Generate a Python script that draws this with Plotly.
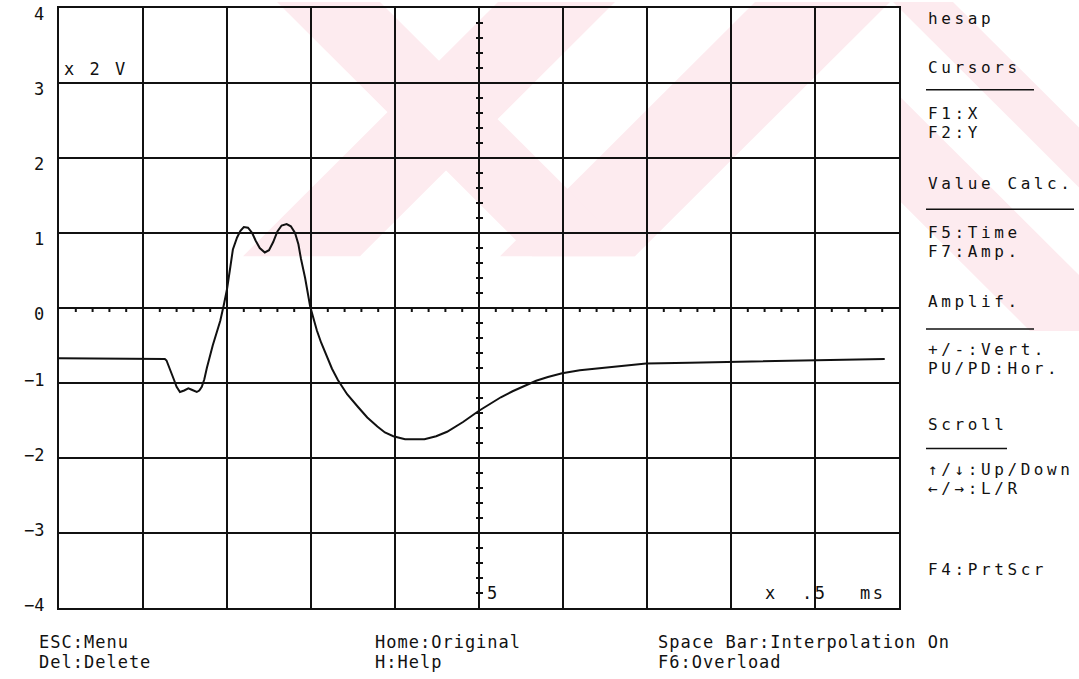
import numpy as np
import plotly.graph_objects as go

# Trace samples: time in screen divisions (x .5 ms), amplitude in divisions (x 2 V)
time_div = [0.0, 0.48, 0.96, 1.20, 1.26, 1.28, 1.31, 1.34, 1.37, 1.40, 1.44, 1.49,
            1.54, 1.58, 1.64, 1.67, 1.70, 1.73, 1.76, 1.83, 1.92, 1.96, 2.00,
            2.04, 2.07, 2.12, 2.16, 2.20, 2.25, 2.30, 2.34, 2.39, 2.45, 2.50,
            2.55, 2.60, 2.65, 2.71, 2.76, 2.81, 2.85, 2.88, 2.93, 2.99, 3.07,
            3.12, 3.19, 3.25, 3.32, 3.43, 3.56, 3.67, 3.79, 3.88, 3.98, 4.12,
            4.35, 4.49, 4.62, 4.81, 5.00, 5.13, 5.26, 5.40, 5.54, 5.68, 5.82,
            5.99, 6.20, 6.46, 6.74, 6.99, 7.51, 7.94, 8.35, 8.86, 9.36, 9.83]
amp_div = [-0.67, -0.67, -0.67, -0.67, -0.68, -0.70, -0.78, -0.87, -0.96, -1.05,
           -1.12, -1.10, -1.07, -1.09, -1.12, -1.10, -1.05, -0.95, -0.80, -0.50,
           -0.17, 0.03, 0.25, 0.55, 0.78, 0.94, 1.03, 1.08, 1.07, 1.00, 0.90,
           0.80, 0.74, 0.77, 0.88, 1.02, 1.10, 1.12, 1.09, 1.00, 0.85, 0.66,
           0.40, 0.02, -0.30, -0.46, -0.65, -0.81, -0.96, -1.15, -1.32, -1.46,
           -1.58, -1.66, -1.71, -1.75, -1.75, -1.71, -1.65, -1.52, -1.37, -1.28,
           -1.19, -1.11, -1.04, -0.97, -0.92, -0.87, -0.83, -0.80, -0.77, -0.74,
           -0.73, -0.72, -0.71, -0.70, -0.69, -0.68]

y_tick_values = [4, 3, 2, 1, 0, -1, -2, -3, -4]
y_tick_labels = ["4", "3", "2", "1", "0", "\u22121", "\u22122", "\u22123", "\u22124"]

menu_items = [("hesap", 17), ("Cursors", 66), ("F1:X", 112), ("F2:Y", 131),
              ("Value Calc.", 182), ("F5:Time", 231), ("F7:Amp.", 250),
              ("Amplif.", 300), ("+/-:Vert.", 349), ("PU/PD:Hor.", 368),
              ("Scroll", 424), ("\u2191/\u2193:Up/Down", 469),
              ("\u2190/\u2192:L/R", 488), ("F4:PrtScr", 569)]
menu_rules = [(88, 1034), (208, 1074), (328, 1034), (448, 1007)]
footer_items = [("ESC:Menu", 38, 642), ("Del:Delete", 38, 662),
                ("Home:Original", 374, 642), ("H:Help", 374, 662),
                ("Space Bar:Interpolation On", 657, 642), ("F6:Overload", 657, 662)]

W, H = 1079, 679
L, R, T, B = 59, 180, 6, 71
PW, PH = W - L - R, H - T - B
FONT = "DejaVu Sans Mono"
INK = "#111111"
WASH = "#fdebef"


def px_to_paper(xp, yp):
    return (xp - L) / PW, (H - B - yp) / PH


def spaced(txt, gap):
    return f'<span style="letter-spacing:{gap}px">{txt}</span>'


def clip(poly, xmin, xmax, ymin, ymax):
    """Sutherland-Hodgman clip of a polygon (pixel coords) to a box."""
    def cut(pts, inside, inter):
        out = []
        for i, cur in enumerate(pts):
            prev = pts[i - 1]
            if inside(cur):
                if not inside(prev):
                    out.append(inter(prev, cur))
                out.append(cur)
            elif inside(prev):
                out.append(inter(prev, cur))
        return out

    def ix(x0):
        return lambda a, b: (x0, a[1] + (b[1] - a[1]) * (x0 - a[0]) / (b[0] - a[0]))

    def iy(y0):
        return lambda a, b: (a[0] + (b[0] - a[0]) * (y0 - a[1]) / (b[1] - a[1]), y0)

    pts = poly
    pts = cut(pts, lambda p: p[0] >= xmin, ix(xmin))
    pts = cut(pts, lambda p: p[0] <= xmax, ix(xmax)) if pts else pts
    pts = cut(pts, lambda p: p[1] >= ymin, iy(ymin)) if pts else pts
    pts = cut(pts, lambda p: p[1] <= ymax, iy(ymax)) if pts else pts
    return pts


def poly_path(points):
    pts = [px_to_paper(x, y) for x, y in points]
    return "M " + " L ".join(f"{x:.5f},{y:.5f}" for x, y in pts) + " Z"


def slash_band(c1, c2, ybot):
    return [(c1, 0), (c2, 0), (c2 - ybot, ybot), (c1 - ybot, ybot)]


def back_band(d1, d2, ybot):
    return [(d1, 0), (d2, 0), (d2 + ybot, ybot), (d1 + ybot, ybot)]


fig = go.Figure()
fig.add_trace(go.Scatter(
    x=time_div, y=amp_div, mode="lines",
    line=dict(color=INK, width=2),
    hoverinfo="skip", showlegend=False))

shapes = []

# faint diagonal background emblem
emblem = [clip(slash_band(498, 615, 255), 0, W, 0, H),
          clip(slash_band(755, 890, 255), 0, W, 0, H),
          clip(back_band(277, 380, 255), 0, W, 0, H),
          clip(back_band(893, 953, 330), 0, W, 0, H),
          clip(back_band(700, 805, 330), 899, W, 0, H)]
for poly in emblem:
    if len(poly) >= 3:
        shapes.append(dict(type="path", xref="paper", yref="paper", layer="below",
                           path=poly_path(poly), fillcolor=WASH, line=dict(width=0)))

# minor ticks hanging under the zero line
for xv in np.arange(0, 10.0001, 0.2):
    if abs(xv - round(xv)) < 1e-6:
        continue
    shapes.append(dict(type="line", xref="x", yref="y", x0=xv, x1=xv,
                       ysizemode="pixel", yanchor=0, y0=-4, y1=0,
                       line=dict(color=INK, width=2)))
# minor ticks across the centre vertical line
for yv in np.arange(-4, 4.0001, 0.2):
    if abs(yv - round(yv)) < 1e-6:
        continue
    shapes.append(dict(type="line", xref="x", yref="y", y0=yv, y1=yv,
                       xsizemode="pixel", xanchor=5, x0=-3, x1=4,
                       line=dict(color=INK, width=2)))
# rules under the menu headings
for yp, xe in menu_rules:
    x0, y0 = px_to_paper(926, yp)
    x1, _ = px_to_paper(xe, yp)
    shapes.append(dict(type="line", xref="paper", yref="paper",
                       x0=x0, x1=x1, y0=y0, y1=y0,
                       line=dict(color=INK, width=1.5)))

annotations = []
for v, lab in zip(y_tick_values, y_tick_labels):
    annotations.append(dict(x=0, y=v, xref="x", yref="y", text=lab, showarrow=False,
                            xanchor="right", xshift=-13, yshift=(-6 if v >= 0 else 3),
                            font=dict(family=FONT, size=17, color=INK)))


def add_text(txt, xp, yp, size, gap):
    xx, yy = px_to_paper(xp, yp)
    annotations.append(dict(x=xx, y=yy, xref="paper", yref="paper",
                            text=spaced(txt, gap), showarrow=False,
                            xanchor="left", yanchor="middle", borderpad=0,
                            font=dict(family=FONT, size=size, color=INK)))


for txt, yp in menu_items:
    add_text(txt, 927, yp, 16, 3.6)
for txt, xp, yp in footer_items:
    add_text(txt, xp, yp, 17, 1)
for txt, xp, yp in [("x 2 V", 63, 67), ("5", 486, 593), ("x", 764, 593),
                    (".5", 801, 593), ("ms", 859, 593)]:
    add_text(txt, xp, yp, 17, 2.5)

fig.update_layout(
    width=W, height=H, margin=dict(l=L, r=R, t=T, b=B),
    paper_bgcolor="white", plot_bgcolor="rgba(0,0,0,0)",
    xaxis=dict(range=[0, 10], dtick=1, tick0=0, showgrid=True, gridcolor=INK,
               gridwidth=2, zeroline=False, showline=True, linecolor=INK,
               linewidth=2, mirror=True, showticklabels=False, ticks=""),
    yaxis=dict(range=[-4, 4], dtick=1, tick0=0, showgrid=True, gridcolor=INK,
               gridwidth=2, zeroline=False, showline=True, linecolor=INK,
               linewidth=2, mirror=True, showticklabels=False, ticks=""),
    shapes=shapes, annotations=annotations, showlegend=False,
)

fig.write_html("out.html")
